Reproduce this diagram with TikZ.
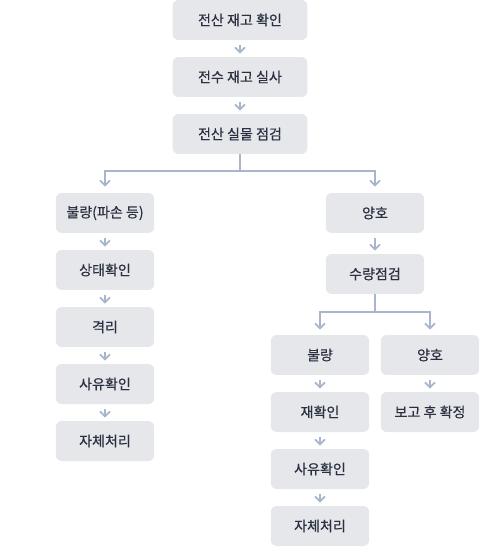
\documentclass[tikz,border=0pt]{standalone}
\usepackage{fontspec}
\setmainfont{Noto Sans CJK KR}
\newfontfamily\boxfont{Noto Sans CJK KR}[FakeBold=0.4]
\usetikzlibrary{arrows.meta}

\definecolor{boxgray}{HTML}{E5E7EB}
\definecolor{ink}{HTML}{2B3040}
\definecolor{arrowblue}{HTML}{A9B5CC}

\begin{document}
\begin{tikzpicture}[
  x=0.02cm, y=-0.02cm,
  box/.style={rectangle, rounded corners=0.12cm, fill=boxgray, text=ink,
    minimum width=1.97cm, minimum height=0.8cm, inner sep=0pt,
    font=\boxfont\fontsize{8}{10}\selectfont},
  wide/.style={box, minimum width=2.7cm},
  link/.style={draw=arrowblue, line width=1pt},
  tip/.style={-{Straight Barb[length=0.1cm, width=0.2cm]}},
  arr/.style={link, tip, shorten <=0.1cm, shorten >=0.06cm},
]
  \useasboundingbox (0,0) rectangle (480,547);

  % main chain
  \foreach \t [count=\i from 0] in {전산 재고 확인, 전수 재고 실사, 전산 실물 점검} {
    \node[wide] (top\i) at (240, 20+57*\i) {\t};
  }
  \draw[arr] (top0) -- (top1);
  \draw[arr] (top1) -- (top2);

  % left branch
  \foreach \t [count=\i from 0] in {불량(파손 등), 상태확인, 격리, 사유확인, 자체처리} {
    \node[box] (l\i) at (105, 213+57*\i) {\t};
  }
  \foreach \i/\j in {0/1, 1/2, 2/3, 3/4} {
    \draw[arr] (l\i) -- (l\j);
  }

  % right branch
  \node[box] (good) at (375, 213) {양호};
  \node[box] (count) at (375, 274) {수량점검};
  \draw[arr] (good) -- (count);

  \foreach \t [count=\i from 0] in {불량, 재확인, 사유확인, 자체처리} {
    \node[box] (rb\i) at (320, 355+57*\i) {\t};
  }
  \foreach \i/\j in {0/1, 1/2, 2/3} {
    \draw[arr] (rb\i) -- (rb\j);
  }

  \node[box] (rg0) at (430, 355) {양호};
  \node[box] (rg1) at (430, 412) {보고 후 확정};
  \draw[arr] (rg0) -- (rg1);

  % splits
  \coordinate (s1) at (240, 171);
  \draw[link] (top2.south) -- (s1);
  \draw[link, tip, shorten >=0.12cm] (s1) -| (l0.north);
  \draw[link, tip, shorten >=0.12cm] (s1) -| (good.north);

  \coordinate (s2) at (375, 312);
  \draw[link] (count.south) -- (s2);
  \draw[link, tip, shorten >=0.1cm] (s2) -| (rb0.north);
  \draw[link, tip, shorten >=0.1cm] (s2) -| (rg0.north);
\end{tikzpicture}
\end{document}
